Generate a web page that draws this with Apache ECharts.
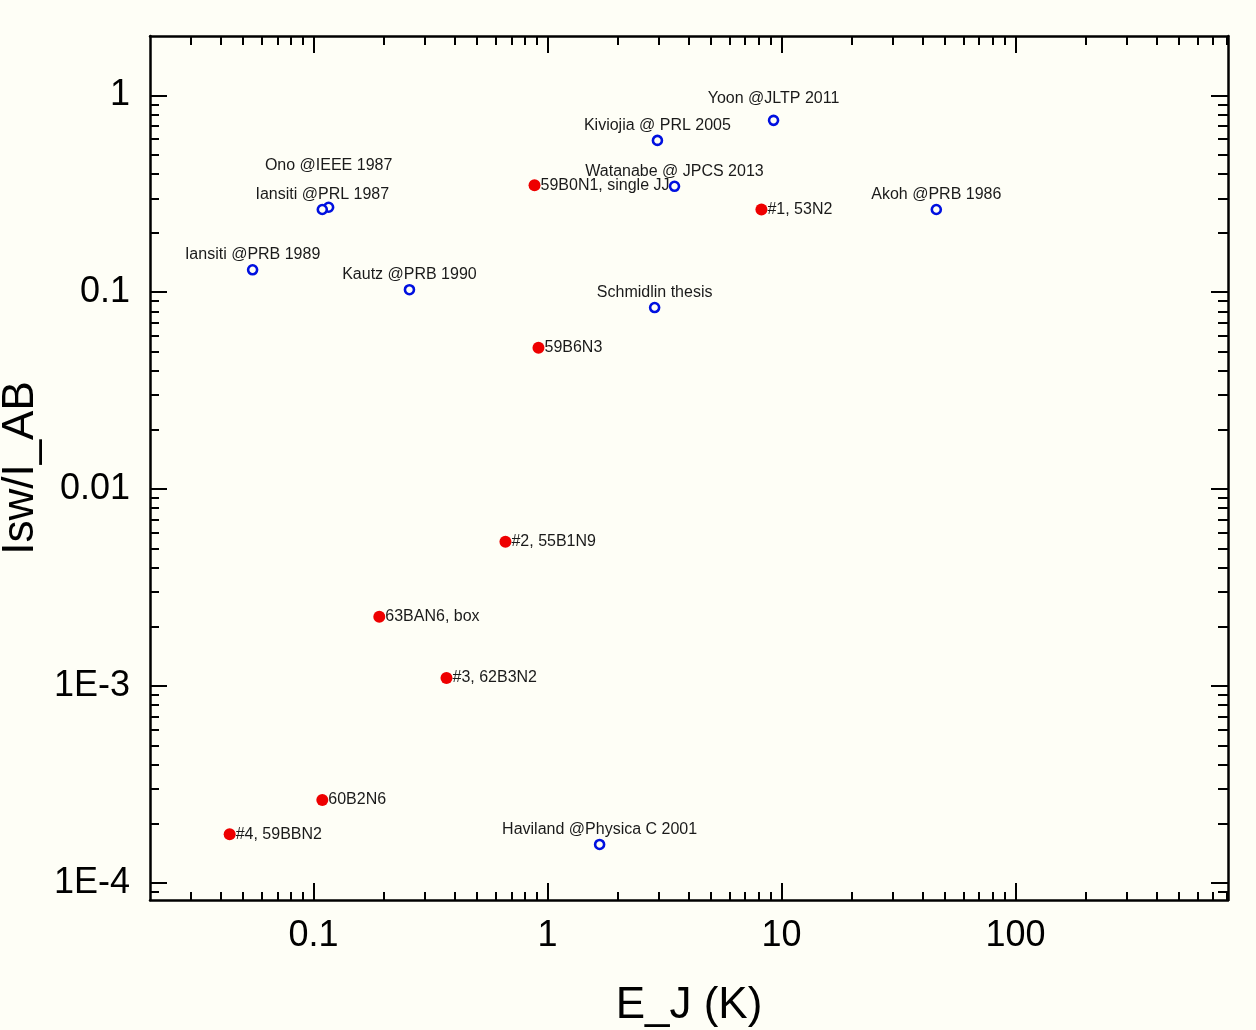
<!DOCTYPE html>
<html>
<head>
<meta charset="utf-8">
<title>Isw/I_AB vs E_J</title>
<script src="https://cdn.jsdelivr.net/npm/echarts@6/dist/echarts.min.js"></script>
<style>
  html, body { margin: 0; padding: 0; background: #fefef6; }
  #chart { width: 1256px; height: 1030px; }
</style>
</head>
<body>
<div id="chart"></div>
<script>
// ---- data ----
// literature points (blue open circles)
const litNames = ['Yoon @JLTP 2011', 'Kiviojia @ PRL 2005', 'Watanabe @ JPCS 2013', 'Ono @IEEE 1987',
    'Iansiti @PRL 1987', 'Akoh @PRB 1986', 'Iansiti @PRB 1989', 'Kautz @PRB 1990',
    'Schmidlin thesis', 'Haviland @Physica C 2001'];
const litEJ = [9.25, 2.95, 3.49, 0.116, 0.109, 45.9, 0.0549, 0.257, 2.87, 1.67];
const litRatio = [0.746, 0.59, 0.345, 0.27, 0.263, 0.263, 0.130, 0.103, 0.0836, 1.57e-4];

// our samples (red filled dots)
const sampleNames = ['59B0N1, single JJ', '#1, 53N2', '59B6N3', '#2, 55B1N9', '63BAN6, box',
    '#3, 62B3N2', '60B2N6', '#4, 59BBN2'];
const sampleEJ = [0.88, 8.21, 0.915, 0.661, 0.191, 0.37, 0.109, 0.0438];
const sampleRatio = [0.349, 0.263, 0.0523, 0.0054, 0.00225, 0.0011, 2.64e-4, 1.77e-4];

// ---- axes ----
const xMajorTicks = [0.1, 1, 10, 100];
const xTickLabels = ['0.1', '1', '10', '100'];
const yMajorTicks = [1e-4, 1e-3, 0.01, 0.1, 1];
const yTickLabels = ['1E-4', '1E-3', '0.01', '0.1', '1'];
const decades = [1e-5, 1e-4, 1e-3, 0.01, 0.1, 1, 10, 100];
const minorSteps = [2, 3, 4, 5, 6, 7, 8, 9];

const xMin = 0.02, xMax = 810;
const yMin = 8.2e-5, yMax = 2;

function minorTicks(lo, hi) {
    const out = [];
    decades.forEach(d => minorSteps.forEach(k => {
        const v = +(k * d).toPrecision(6);
        if (v > lo && v < hi) out.push(v);
    }));
    return out;
}
const xMinorTicks = minorTicks(xMin, xMax);
const yMinorTicks = minorTicks(yMin, yMax);

function labelFor(values, labels) {
    return function (v) {
        for (let i = 0; i < values.length; i++) {
            if (Math.abs(Math.log10(v) - Math.log10(values[i])) < 1e-6) return labels[i];
        }
        return '';
    };
}

const INK = '#000';
const FONT = 'Liberation Sans, Arial, Helvetica, sans-serif';

function xAxisDef(position, ticks, len, withLine, withLabel) {
    return {
        type: 'log', logBase: 10, position: position, min: xMin, max: xMax,
        axisLine: { show: withLine, onZero: false, lineStyle: { color: INK, width: 2.5 } },
        axisTick: { show: true, inside: true, length: len, customValues: ticks,
            lineStyle: { color: INK, width: 2 } },
        axisLabel: withLabel ? {
            show: true, customValues: xMajorTicks, margin: 18, fontSize: 36, color: INK,
            fontFamily: FONT, formatter: labelFor(xMajorTicks, xTickLabels)
        } : { show: false },
        splitLine: { show: false },
        minorTick: { show: false }
    };
}

function yAxisDef(position, ticks, len, withLine, withLabel) {
    return {
        type: 'log', logBase: 10, position: position, min: yMin, max: yMax,
        axisLine: { show: withLine, onZero: false, lineStyle: { color: INK, width: 2.5 } },
        axisTick: { show: true, inside: true, length: len, customValues: ticks,
            lineStyle: { color: INK, width: 2 } },
        axisLabel: withLabel ? {
            show: true, customValues: yMajorTicks, margin: 20, fontSize: 36, color: INK,
            fontFamily: FONT, formatter: labelFor(yMajorTicks, yTickLabels)
        } : { show: false },
        splitLine: { show: false },
        minorTick: { show: false }
    };
}

const xAxes = [
    xAxisDef('bottom', xMajorTicks, 17, true, true),
    xAxisDef('bottom', xMinorTicks, 8, false, false),
    xAxisDef('top', xMajorTicks, 17, true, false),
    xAxisDef('top', xMinorTicks, 9, false, false)
];
Object.assign(xAxes[0], {
    name: 'E_J (K)', nameLocation: 'middle', nameGap: 84,
    nameTextStyle: { fontSize: 44, color: INK, fontFamily: FONT }
});

const yAxes = [
    yAxisDef('left', yMajorTicks, 17, true, true),
    yAxisDef('left', yMinorTicks, 9, false, false),
    yAxisDef('right', yMajorTicks, 17, true, false),
    yAxisDef('right', yMinorTicks, 10, false, false)
];
Object.assign(yAxes[0], {
    name: 'Isw/I_AB', nameLocation: 'middle', nameGap: 106,
    nameTextStyle: { fontSize: 44, color: INK, fontFamily: FONT }
});

// a couple of literature labels sit higher to avoid overlap
const litLabelOffset = {
    'Ono @IEEE 1987': [0, -27],
    'Yoon @JLTP 2011': [0, -7]
};

const labelText = { fontSize: 16, color: '#1a1a1a', fontFamily: FONT };

const litData = litNames.map((n, i) => {
    const item = { name: n, value: [litEJ[i], litRatio[i]] };
    if (litLabelOffset[n]) item.label = { offset: litLabelOffset[n] };
    return item;
});
const sampleData = sampleNames.map((n, i) => ({ name: n, value: [sampleEJ[i], sampleRatio[i]] }));

const chart = echarts.init(document.getElementById('chart'), null, { renderer: 'canvas' });

chart.setOption({
    backgroundColor: '#fefef6',
    animation: false,
    grid: { left: 150, right: 28, top: 36, bottom: 130, containLabel: false, outerBoundsMode: 'none' },
    xAxis: xAxes,
    yAxis: yAxes,
    series: [
        {
            name: 'literature',
            type: 'scatter',
            xAxisIndex: 0, yAxisIndex: 0,
            data: litData,
            symbol: 'circle',
            symbolSize: 9,
            itemStyle: { color: '#fefef6', borderColor: '#0010e0', borderWidth: 2.6, opacity: 1 },
            label: Object.assign({
                show: true, position: 'top', distance: 1,
                formatter: p => p.name
            }, labelText),
            emphasis: { disabled: true },
            z: 3
        },
        {
            name: 'this work',
            type: 'scatter',
            xAxisIndex: 0, yAxisIndex: 0,
            data: sampleData,
            symbol: 'circle',
            symbolSize: 12,
            itemStyle: { color: '#ee0000', opacity: 1 },
            label: Object.assign({
                show: true, position: 'right', distance: 0,
                formatter: p => p.name
            }, labelText),
            emphasis: { disabled: true },
            z: 4
        }
    ]
});

window.addEventListener('resize', () => chart.resize());
</script>
</body>
</html>
